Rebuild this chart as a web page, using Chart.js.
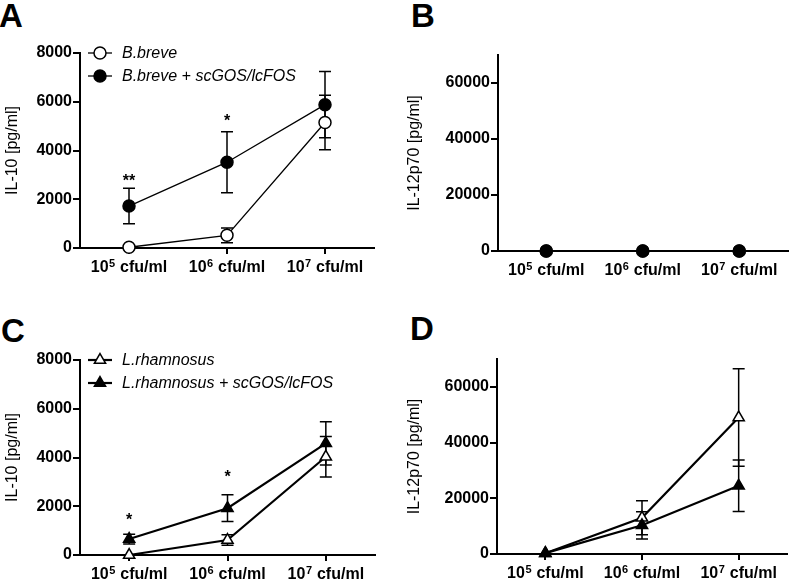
<!DOCTYPE html>
<html>
<head>
<meta charset="utf-8">
<script src="https://cdn.jsdelivr.net/npm/chart.js@4.4.0/dist/chart.umd.min.js"></script>
<style>
  body { margin: 0; background: #fff; width: 795px; height: 581px; position: relative; overflow: hidden; font-family: "Liberation Sans", Arial, sans-serif; }
  canvas { position: absolute; }
  .letter { position: absolute; font-weight: bold; font-size: 33px; line-height: 1; color: #000; }
</style>
</head>
<body>
<div class="letter" style="left:-1px;top:-1px">A</div>
<div class="letter" style="left:411px;top:-1px">B</div>
<div class="letter" style="left:1px;top:314px">C</div>
<div class="letter" style="left:410px;top:312px">D</div>

<canvas id="chartA" width="397" height="290" style="left:0;top:0"></canvas>
<canvas id="chartB" width="395" height="290" style="left:400px;top:0"></canvas>
<canvas id="chartC" width="397" height="291" style="left:0;top:290px"></canvas>
<canvas id="chartD" width="395" height="291" style="left:400px;top:290px"></canvas>

<script>
// doses (x categories): 10^exp cfu/ml
const doseExp = ['5', '6', '7'];
const doses = doseExp.map(e => '10' + e + ' cfu/ml');

// y ticks
const il10Ticks = [0, 2000, 4000, 6000, 8000];
const il12Ticks = [0, 20000, 40000, 60000];

// A: IL-10, B.breve
const breveIL10 = [30, 520, 5150];
const breveIL10Err = [0, 300, 1120];
const breveGosIL10 = [1720, 3520, 5880];
const breveGosIL10Err = [730, 1250, 1360];
const starsA = ['**', '*', ''];
const starsAAt = [2900, 5350, 0];

// B: IL-12p70, B.breve
const breveIL12 = [0, 0, 0];
const breveGosIL12 = [0, 0, 0];

// C: IL-10, L.rhamnosus
const rhamIL10 = [0, 615, 4030];
const rhamIL10Err = [0, 220, 830];
const rhamGosIL10 = [655, 1920, 4580];
const rhamGosIL10Err = [200, 550, 890];
const starsC = ['*', '*', ''];
const starsCAt = [1570, 3350, 0];

// D: IL-12p70, L.rhamnosus
const rhamIL12 = [300, 13000, 49000];
const rhamIL12Err = [0, 6100, 17500];
const rhamGosIL12 = [300, 10300, 24500];
const rhamGosIL12Err = [0, 4900, 9200];

const FONT = '"Liberation Sans", Arial, sans-serif';
Chart.defaults.font.family = FONT;
Chart.defaults.color = '#000';

// error bars drawn below the markers
const errorBars = {
  id: 'errorBars',
  beforeDatasetsDraw(chart) {
    const ctx = chart.ctx;
    const y = chart.scales.y;
    chart.data.datasets.forEach((ds, i) => {
      if (!ds.errors) return;
      chart.getDatasetMeta(i).data.forEach((pt, j) => {
        const e = ds.errors[j];
        if (!e) return;
        const top = y.getPixelForValue(ds.data[j] + e);
        const bot = y.getPixelForValue(ds.data[j] - e);
        ctx.save();
        ctx.strokeStyle = '#000';
        ctx.lineWidth = 1.5;
        ctx.beginPath();
        ctx.moveTo(pt.x, top); ctx.lineTo(pt.x, bot);
        ctx.moveTo(pt.x - 6, top); ctx.lineTo(pt.x + 6, top);
        ctx.moveTo(pt.x - 6, bot); ctx.lineTo(pt.x + 6, bot);
        ctx.stroke();
        ctx.restore();
      });
    });
  }
};

// significance stars
const stars = {
  id: 'stars',
  afterDatasetsDraw(chart, args, opts) {
    if (!opts.text) return;
    const ctx = chart.ctx;
    const x = chart.scales.x, y = chart.scales.y;
    ctx.save();
    ctx.font = 'bold 16px ' + FONT;
    ctx.fillStyle = '#000';
    ctx.textAlign = 'center';
    ctx.textBaseline = 'middle';
    opts.text.forEach((t, i) => {
      if (!t) return;
      ctx.fillText(t, x.getPixelForValue(i), y.getPixelForValue(opts.at[i]) + 4);
    });
    ctx.restore();
  }
};

// x labels with a real superscript exponent
const doseLabels = {
  id: 'doseLabels',
  afterDraw(chart) {
    const ctx = chart.ctx;
    const x = chart.scales.x;
    const base = x.top + 23.5;
    ctx.save();
    ctx.fillStyle = '#000';
    ctx.textBaseline = 'alphabetic';
    doseExp.forEach((e, i) => {
      const big = 'bold 16px ' + FONT, small = 'bold 11px ' + FONT;
      ctx.font = big;
      const w1 = ctx.measureText('10').width, w3 = ctx.measureText(' cfu/ml').width;
      ctx.font = small;
      const w2 = ctx.measureText(e).width + 1;
      let px = x.getPixelForValue(i) - (w1 + w2 + w3) / 2;
      ctx.font = big;
      ctx.fillText('10', px, base);
      px += w1 + 0.5;
      ctx.font = small;
      ctx.fillText(e, px, base - 4.5);
      px += w2 - 0.5;
      ctx.font = big;
      ctx.fillText(' cfu/ml', px, base);
    });
    ctx.restore();
  }
};

// legend inside the plot, top left
const innerLegend = {
  id: 'innerLegend',
  afterDraw(chart, args, opts) {
    if (!opts.show) return;
    const ctx = chart.ctx;
    const area = chart.chartArea;
    chart.data.datasets.forEach((ds, i) => {
      const yy = area.top + i * 23;
      const x0 = area.left + 8;
      ctx.save();
      ctx.strokeStyle = '#000';
      ctx.lineWidth = ds.borderWidth;
      ctx.beginPath();
      ctx.moveTo(x0, yy); ctx.lineTo(x0 + 24, yy);
      ctx.stroke();
      ctx.fillStyle = ds.pointBackgroundColor;
      ctx.lineWidth = ds.pointBorderWidth;
      Chart.helpers.drawPoint(ctx, { pointStyle: ds.pointStyle, radius: ds.pointRadius, borderWidth: ds.pointBorderWidth, rotation: 0 }, x0 + 12, yy);
      ctx.font = 'italic 16px ' + FONT;
      ctx.fillStyle = '#000';
      ctx.textBaseline = 'middle';
      ctx.fillText(ds.label, x0 + 34, yy + 1);
      ctx.restore();
    });
  }
};

function series(label, data, errors, filled, style, lw, radius, order) {
  return {
    label: label,
    data: data,
    errors: errors,
    borderColor: '#000',
    borderWidth: lw,
    pointStyle: style,
    pointRadius: radius,
    pointHoverRadius: radius,
    pointBackgroundColor: filled ? '#000' : '#fff',
    pointBorderColor: '#000',
    pointBorderWidth: 1.5,
    tension: 0,
    fill: false,
    clip: false,
    order: order
  };
}

function makeChart(id, datasets, opt) {
  const ctx = document.getElementById(id).getContext('2d');
  return new Chart(ctx, {
    type: 'line',
    data: { labels: doses, datasets: datasets },
    options: {
      responsive: false,
      animation: false,
      layout: { padding: { top: opt.top, right: opt.right, left: 0, bottom: 0 } },
      plugins: {
        legend: { display: false },
        tooltip: { enabled: false },
        stars: { text: opt.stars, at: opt.starsAt },
        innerLegend: { show: opt.legend }
      },
      scales: {
        x: {
          offset: true,
          grid: { drawOnChartArea: false, offset: false, color: '#000', lineWidth: 2, tickLength: 6 },
          border: { color: '#000', width: 2 },
          ticks: { display: false },
          afterFit: s => { s.height = opt.xHeight; }
        },
        y: {
          min: 0,
          max: opt.max,
          afterBuildTicks: axis => { axis.ticks = opt.ticks.map(v => ({ value: v })); },
          ticks: { color: '#000', font: { size: 16, weight: 'bold' }, padding: 1, callback: v => String(v) },
          grid: { drawOnChartArea: false, color: '#000', lineWidth: 2, tickLength: 7 },
          border: { color: '#000', width: 2 },
          title: { display: true, text: opt.title, color: '#000', font: { size: 16 }, padding: { top: opt.titlePad, bottom: 0 } },
          afterFit: s => { s.width = opt.yWidth; }
        }
      }
    },
    plugins: [errorBars, stars, innerLegend, doseLabels]
  });
}

makeChart('chartA', [
  series('B.breve', breveIL10, breveIL10Err, false, 'circle', 1.3, 6, 1),
  series('B.breve + scGOS/lcFOS', breveGosIL10, breveGosIL10Err, true, 'circle', 1.3, 6, 0)
], { top: 53, right: 23, xHeight: 42, yWidth: 80, max: 8000, ticks: il10Ticks,
     title: 'IL-10 [pg/ml]', titlePad: 3, stars: starsA, starsAt: starsAAt, legend: true });

makeChart('chartB', [
  series('B.breve', breveIL12, null, false, 'circle', 1.3, 6, 1),
  series('B.breve + scGOS/lcFOS', breveGosIL12, null, true, 'circle', 1.3, 6, 0)
], { top: 55, right: 4, xHeight: 39, yWidth: 98, max: 70000, ticks: il12Ticks,
     title: 'IL-12p70 [pg/ml]', titlePad: 5, stars: null, starsAt: null, legend: false });

makeChart('chartC', [
  series('L.rhamnosus', rhamIL10, rhamIL10Err, false, 'triangle', 2.2, 6.5, 1),
  series('L.rhamnosus + scGOS/lcFOS', rhamGosIL10, rhamGosIL10Err, true, 'triangle', 2.2, 6.5, 0)
], { top: 70, right: 22, xHeight: 26, yWidth: 80, max: 8000, ticks: il10Ticks,
     title: 'IL-10 [pg/ml]', titlePad: 3, stars: starsC, starsAt: starsCAt, legend: true });

makeChart('chartD', [
  series('L.rhamnosus', rhamIL12, rhamIL12Err, false, 'triangle', 2.2, 6.5, 1),
  series('L.rhamnosus + scGOS/lcFOS', rhamGosIL12, rhamGosIL12Err, true, 'triangle', 2.2, 6.5, 0)
], { top: 69, right: 4, xHeight: 27, yWidth: 97, max: 70000, ticks: il12Ticks,
     title: 'IL-12p70 [pg/ml]', titlePad: 5, stars: null, starsAt: null, legend: false });
</script>
</body>
</html>
